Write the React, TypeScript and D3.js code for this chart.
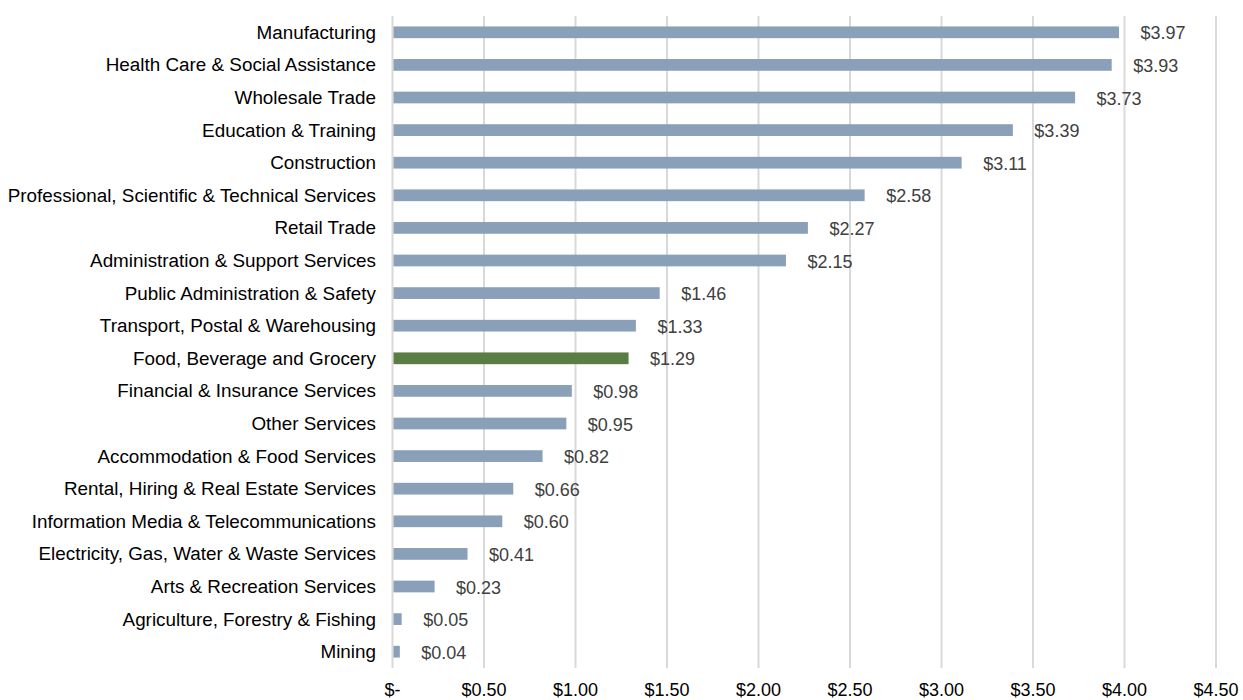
import React from "react";
import * as d3 from "d3";

const categories = [
  "Manufacturing",
  "Health Care & Social Assistance",
  "Wholesale Trade",
  "Education & Training",
  "Construction",
  "Professional, Scientific & Technical Services",
  "Retail Trade",
  "Administration & Support Services",
  "Public Administration & Safety",
  "Transport, Postal & Warehousing",
  "Food, Beverage and Grocery",
  "Financial & Insurance Services",
  "Other Services",
  "Accommodation & Food Services",
  "Rental, Hiring & Real Estate Services",
  "Information Media & Telecommunications",
  "Electricity, Gas, Water & Waste Services",
  "Arts & Recreation Services",
  "Agriculture, Forestry & Fishing",
  "Mining",
];
const values = [3.97, 3.93, 3.73, 3.39, 3.11, 2.58, 2.27, 2.15, 1.46, 1.33, 1.29, 0.98, 0.95, 0.82, 0.66, 0.6, 0.41, 0.23, 0.05, 0.04];
const highlight = "Food, Beverage and Grocery";
const ticks = [0, 0.5, 1, 1.5, 2, 2.5, 3, 3.5, 4, 4.5];

const W = 1243;
const H = 700;
const FONT = "'Liberation Sans', Arial, sans-serif";

export default function App() {
  const x = d3.scaleLinear().domain([0, 4.5]).range([392.5, 1216]);
  const y = d3.scaleBand().domain(categories).range([16, 668]).paddingInner(0.64).paddingOuter(0.32);
  const fmt = (v: number) => (v === 0 ? "$-" : "$" + d3.format(".2f")(v));
  return (
    <svg width={W} height={H} style={{ position: "absolute", left: 0, top: 0 }} fontFamily={FONT}>
      <rect width={W} height={H} fill="#fff" />
      {ticks.map((t) => (
        <line key={t} x1={x(t)} x2={x(t)} y1={16} y2={668} stroke="#d9d9d9" strokeWidth={2} />
      ))}
      {categories.map((c, i) => {
        const yy = y(c)!;
        const bw = y.bandwidth();
        const cy = yy + bw / 2;
        return (
          <g key={c}>
            <rect
              x={x(0) + 1}
              y={yy}
              width={x(values[i]) - x(0) - 1}
              height={bw}
              fill={c === highlight ? "#5a7d45" : "#8aa0b8"}
            />
            <text x={376} y={cy} textAnchor="end" dominantBaseline="central" fontSize={18.85} fill="#000">
              {c}
            </text>
            <text x={x(values[i]) + 21.5} y={cy + 1} dominantBaseline="central" fontSize={18} fill="#404040">
              {fmt(values[i])}
            </text>
          </g>
        );
      })}
      {ticks.map((t) => (
        <text key={"t" + t} x={x(t)} y={690} textAnchor="middle" dominantBaseline="central" fontSize={18} fill="#000">
          {fmt(t)}
        </text>
      ))}
    </svg>
  );
}
